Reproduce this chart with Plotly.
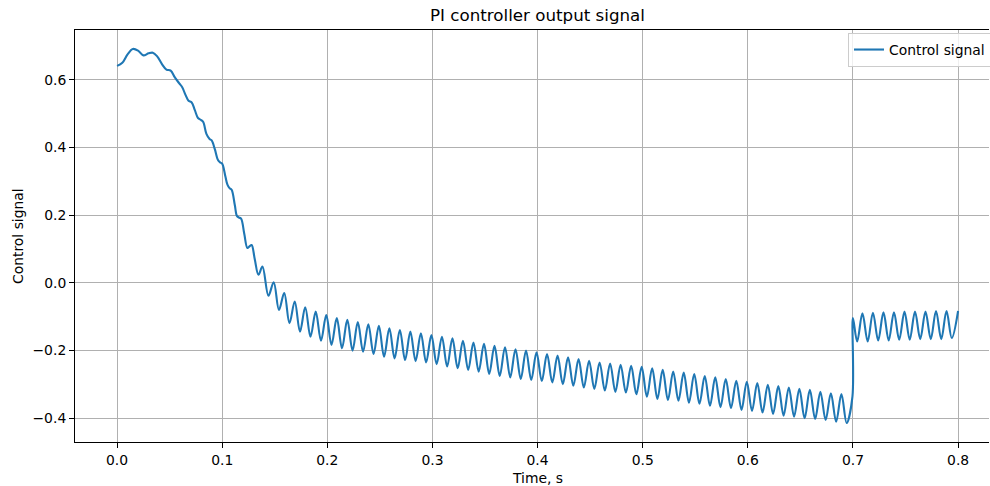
import plotly.graph_objects as go

# Early transient (time in s, control signal)
early_t = [0.000, 0.005, 0.010, 0.015, 0.020, 0.025, 0.030, 0.034, 0.038, 0.043,
           0.047, 0.051, 0.055, 0.059, 0.062, 0.065, 0.068, 0.071, 0.074, 0.077,
           0.080, 0.082, 0.085, 0.088, 0.090, 0.093, 0.096, 0.098, 0.100, 0.103,
           0.105, 0.107, 0.109, 0.112, 0.114, 0.116, 0.118, 0.121, 0.124, 0.126,
           0.128, 0.131, 0.1345, 0.1383, 0.144, 0.149, 0.154]
early_v = [0.641, 0.650, 0.675, 0.691, 0.686, 0.672, 0.678, 0.680, 0.670, 0.645,
           0.630, 0.627, 0.607, 0.590, 0.578, 0.556, 0.538, 0.533, 0.510, 0.487,
           0.481, 0.475, 0.440, 0.425, 0.421, 0.395, 0.363, 0.356, 0.352, 0.315,
           0.290, 0.280, 0.275, 0.230, 0.198, 0.193, 0.190, 0.145, 0.103, 0.108,
           0.112, 0.070, 0.024, 0.048, -0.038, 0.002, -0.080]

# Oscillation peaks before the step
peak_t = [0.159, 0.169, 0.179, 0.189, 0.199, 0.209, 0.219, 0.229, 0.239, 0.249,
          0.259, 0.269, 0.279, 0.289, 0.299, 0.309, 0.319, 0.329, 0.339, 0.349,
          0.359, 0.369, 0.379, 0.389, 0.399, 0.409, 0.419, 0.429, 0.439, 0.449,
          0.459, 0.469, 0.479, 0.489, 0.499, 0.509, 0.519, 0.529, 0.539, 0.549,
          0.559, 0.569, 0.579, 0.589, 0.599, 0.609, 0.619, 0.629, 0.639, 0.649,
          0.659, 0.669, 0.679, 0.689, 0.6995]
peak_v = [-0.030, -0.055, -0.072, -0.085, -0.095, -0.104, -0.109, -0.116, -0.122, -0.127,
          -0.134, -0.139, -0.144, -0.149, -0.154, -0.159, -0.164, -0.171, -0.176, -0.180,
          -0.186, -0.190, -0.196, -0.200, -0.205, -0.210, -0.215, -0.220, -0.225, -0.230,
          -0.235, -0.238, -0.242, -0.245, -0.248, -0.252, -0.257, -0.262, -0.265, -0.269,
          -0.275, -0.279, -0.284, -0.289, -0.292, -0.296, -0.301, -0.305, -0.309, -0.313,
          -0.316, -0.322, -0.326, -0.328, -0.336]

# Oscillation troughs before the step
trough_t = [0.164, 0.174, 0.184, 0.194, 0.204, 0.214, 0.224, 0.234, 0.244, 0.254,
            0.264, 0.274, 0.284, 0.294, 0.304, 0.314, 0.324, 0.334, 0.344, 0.354,
            0.364, 0.374, 0.384, 0.394, 0.404, 0.414, 0.424, 0.434, 0.444, 0.454,
            0.464, 0.474, 0.484, 0.494, 0.504, 0.514, 0.524, 0.534, 0.544, 0.554,
            0.564, 0.574, 0.584, 0.594, 0.604, 0.614, 0.624, 0.634, 0.644, 0.654,
            0.664, 0.674, 0.684, 0.694]
trough_v = [-0.119, -0.144, -0.159, -0.171, -0.183, -0.193, -0.200, -0.203, -0.210, -0.218,
            -0.223, -0.228, -0.231, -0.235, -0.240, -0.247, -0.252, -0.257, -0.262, -0.269,
            -0.275, -0.279, -0.284, -0.287, -0.290, -0.294, -0.299, -0.304, -0.309, -0.313,
            -0.318, -0.322, -0.324, -0.329, -0.336, -0.343, -0.346, -0.348, -0.354, -0.357,
            -0.363, -0.367, -0.370, -0.375, -0.378, -0.383, -0.387, -0.392, -0.395, -0.400,
            -0.402, -0.405, -0.410, -0.414]

# After the step at t = 0.7 s
late_t = [0.700, 0.704, 0.709, 0.714, 0.719, 0.724, 0.729, 0.734, 0.739, 0.744,
          0.749, 0.754, 0.759, 0.764, 0.769, 0.774, 0.779, 0.784, 0.789, 0.794, 0.800]
late_v = [-0.104, -0.173, -0.090, -0.173, -0.088, -0.170, -0.087, -0.170, -0.087, -0.168,
          -0.085, -0.168, -0.085, -0.166, -0.085, -0.166, -0.083, -0.166, -0.083, -0.163, -0.083]

pairs = sorted(list(zip(early_t, early_v)) + list(zip(peak_t, peak_v))
               + list(zip(trough_t, trough_v)) + list(zip(late_t, late_v)))
time_s = [p[0] for p in pairs]
signal = [p[1] for p in pairs]

x_ticks = [0.0, 0.1, 0.2, 0.3, 0.4, 0.5, 0.6, 0.7, 0.8]
y_ticks = [-0.4, -0.2, 0.0, 0.2, 0.4, 0.6]

FONT = "DejaVu Sans"
W, H = 990, 486
L, R, T, B = 75, 1, 30, 44
PW, PH = W - L - R, H - T - B

fig = go.Figure()
fig.add_trace(go.Scatter(
    x=time_s, y=signal, mode="lines", name="Control signal",
    line=dict(color="#1f77b4", width=2.1, shape="spline", smoothing=1.0),
))

fig.update_layout(
    width=W, height=H,
    margin=dict(l=L, r=R, t=T, b=B, autoexpand=False),
    paper_bgcolor="white", plot_bgcolor="white",
    font=dict(family=FONT, size=13.9, color="#000000"),
    title=dict(text="PI controller output signal", x=537.5 / W, xref="container",
               xanchor="center", y=1 - 15 / H, yanchor="middle",
               font=dict(family=FONT, size=16.7, color="#000000")),
    showlegend=True,
    legend=dict(x=(848 - L) / PW, xanchor="left", y=1 - 3 / PH, yanchor="top",
                bgcolor="rgba(255,255,255,0.8)", bordercolor="#cccccc", borderwidth=1,
                font=dict(family=FONT, size=13.9, color="#000000")),
    annotations=[
        dict(text="Time, s", xref="paper", yref="paper",
             x=(537.5 - L) / PW, y=-(478 - (T + PH)) / PH, xanchor="center", yanchor="middle",
             showarrow=False, font=dict(family=FONT, size=13.9, color="#000000")),
        dict(text="Control signal", xref="paper", yref="paper",
             x=-(L - 18) / PW, y=0.5, xanchor="center", yanchor="middle", textangle=-90,
             showarrow=False, font=dict(family=FONT, size=13.9, color="#000000")),
    ],
)

fig.update_xaxes(
    range=[-0.04, 0.8294], tickvals=x_ticks, tickformat=".1f", automargin=False,
    showgrid=True, gridcolor="#b0b0b0", gridwidth=0.8,
    showline=True, linecolor="#000000", linewidth=1, mirror=True,
    ticks="outside", ticklen=5, tickcolor="#000000", zeroline=False,
)
fig.update_yaxes(
    range=[-0.47, 0.747], tickvals=y_ticks, tickformat=".1f", automargin=False,
    showgrid=True, gridcolor="#b0b0b0", gridwidth=0.8,
    showline=True, linecolor="#000000", linewidth=1, mirror=False,
    ticks="outside", ticklen=5, tickcolor="#000000", zeroline=False,
)

fig.write_html("out.html", config={"displayModeBar": False},
               post_script="document.body.style.margin='0';document.body.style.overflow='hidden';")
